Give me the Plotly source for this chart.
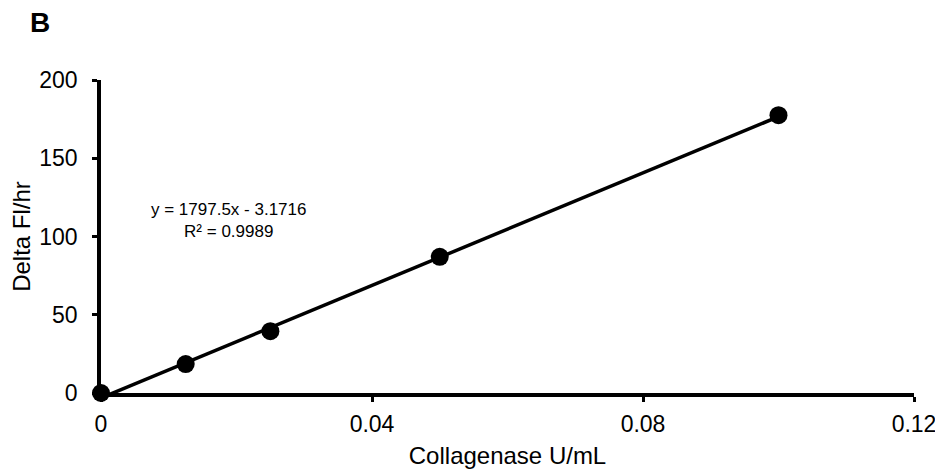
import plotly.graph_objects as go

x_vals = [0, 0.0125, 0.025, 0.05, 0.1]
y_vals = [0, 18.5, 39.5, 87, 177.5]
slope = 1797.5
intercept = -3.1716
fit_x = [0, 0.1]
fit_y = [slope * v + intercept for v in fit_x]
x_ticks = [0, 0.04, 0.08, 0.12]
x_tick_labels = ["0", "0.04", "0.08", "0.12"]
y_ticks = [0, 50, 100, 150, 200]

font = "Liberation Sans, Arial, sans-serif"

# page body has an 8px default margin; compensate so plot area lands at x 101-914, y 80-393
W, H = 935, 465
ML, MR, MT, MB = 93, 29, 72, 80
PW, PH = W - ML - MR, H - MT - MB

fig = go.Figure()
fig.add_trace(go.Scatter(x=fit_x, y=fit_y, mode="lines",
                         line=dict(color="black", width=3.5), hoverinfo="skip"))
fig.add_trace(go.Scatter(x=x_vals, y=y_vals, mode="markers",
                         marker=dict(color="black", size=18), cliponaxis=False))

fig.add_annotation(x=0.0188, y=110, xref="x", yref="y",
                   text="y = 1797.5x - 3.1716<br>R² = 0.9989",
                   showarrow=False, align="center",
                   font=dict(family=font, size=17, color="black"))
fig.add_annotation(x=(40 - 8 - ML) / PW, y=1 + (MT + 8 - 22) / PH,
                   xref="paper", yref="paper", text="<b>B</b>",
                   xanchor="center", yanchor="middle",
                   showarrow=False, font=dict(family=font, size=28, color="black"))

fig.update_layout(
    width=W, height=H,
    margin=dict(l=ML, r=MR, t=MT, b=MB, autoexpand=False),
    paper_bgcolor="white", plot_bgcolor="white",
    showlegend=False,
    font=dict(family=font, size=23, color="black"),
)
fig.update_xaxes(range=[0, 0.12], tickvals=x_ticks, ticktext=x_tick_labels,
                 showline=True, linecolor="black", linewidth=3.5, showgrid=False,
                 zeroline=False, ticks="outside", ticklen=5, tickwidth=3,
                 tickcolor="black", ticklabelstandoff=3,
                 title=dict(text="Collagenase U/mL", standoff=12,
                            font=dict(family=font, size=24, color="black")),
                 tickfont=dict(size=23))
fig.update_yaxes(range=[0, 200], tickvals=y_ticks,
                 showline=True, linecolor="black", linewidth=3.5, showgrid=False,
                 zeroline=False, ticks="outside", ticklen=5, tickwidth=3,
                 tickcolor="black", ticklabelstandoff=10,
                 title=dict(text="Delta Fl/hr", standoff=10,
                            font=dict(family=font, size=24, color="black")),
                 tickfont=dict(size=23))

fig.write_html("out.html")
